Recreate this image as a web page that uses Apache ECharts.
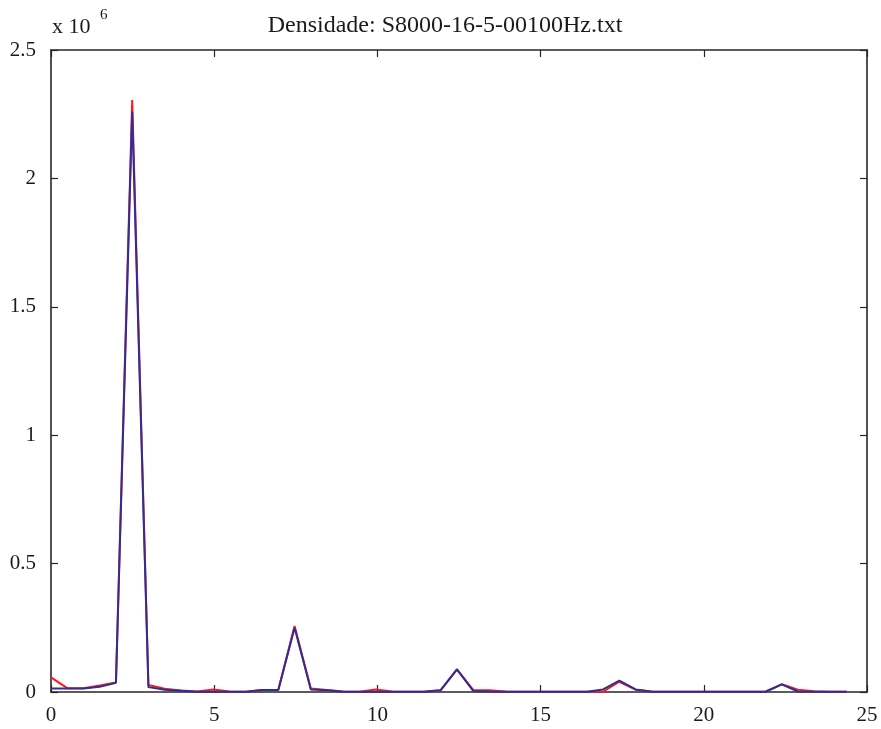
<!DOCTYPE html>
<html>
<head>
<meta charset="utf-8">
<script src="https://cdn.jsdelivr.net/npm/echarts@6/dist/echarts.min.js"></script>
<style>
  html, body { margin: 0; padding: 0; background: #fff; }
  #chart { width: 881px; height: 729px; }
</style>
</head>
<body>
<div id="chart"></div>
<script>
// frequency step between samples
var freqStep = 0.4975;
// densities, in units of 10^6
var redValues = [
  0.057, 0.015, 0.015, 0.025, 0.037, 2.305, 0.027, 0.013, 0.006, 0.002,
  0.010, 0.002, 0.001, 0.008, 0.009, 0.257, 0.014, 0.008, 0.002, 0.001,
  0.010, 0.002, 0.001, 0.002, 0.007, 0.088, 0.008, 0.007, 0.002, 0.001,
  0.001, 0.001, 0.001, 0.001, 0.001, 0.040, 0.009, 0.002, 0.001, 0.001,
  0.001, 0.001, 0.001, 0.001, 0.001, 0.030, 0.009, 0.003, 0.001, 0.001
];
var blueValues = [
  0.014, 0.014, 0.014, 0.020, 0.036, 2.260, 0.019, 0.009, 0.005, 0.001,
  0.001, 0.001, 0.001, 0.008, 0.008, 0.250, 0.010, 0.007, 0.001, 0.001,
  0.001, 0.001, 0.001, 0.001, 0.007, 0.088, 0.004, 0.002, 0.001, 0.001,
  0.001, 0.001, 0.001, 0.001, 0.010, 0.044, 0.010, 0.001, 0.001, 0.001,
  0.001, 0.001, 0.001, 0.001, 0.001, 0.030, 0.002, 0.001, 0.001, 0.001
];
var scale = 1e6;

function toPoints(vals) {
  return vals.map(function (v, i) { return [i * freqStep, v * scale]; });
}

var font = '"Liberation Serif", "DejaVu Serif", serif';
var axisColor = '#262626';
var lineCfg = { show: true, onZero: false, lineStyle: { color: axisColor, width: 1.6 } };
var tickCfg = { inside: true, length: 7, lineStyle: { color: axisColor, width: 1.2 } };

var myChart = echarts.init(document.getElementById('chart'));

var option = {
  backgroundColor: '#fff',
  animation: false,
  title: {
    text: 'Densidade: S8000-16-5-00100Hz.txt',
    left: 440,
    textAlign: 'center',
    top: 9,
    textStyle: { fontFamily: font, fontSize: 24, fontWeight: 'normal', color: '#1a1a1a' }
  },
  graphic: [
    {
      type: 'text', left: 52, top: 16,
      style: { text: 'x 10', font: '22px ' + font, fill: '#1a1a1a' }
    },
    {
      type: 'text', left: 100, top: 8,
      style: { text: '6', font: '15px ' + font, fill: '#1a1a1a' }
    }
  ],
  grid: { left: 51, right: 14, top: 50, bottom: 37, containLabel: false },
  xAxis: [
    {
      type: 'value', min: 0, max: 25, interval: 5,
      axisLine: lineCfg, axisTick: tickCfg,
      axisLabel: { fontFamily: font, fontSize: 21, color: '#1a1a1a', margin: 13 },
      splitLine: { show: false }
    },
    {
      type: 'value', min: 0, max: 25, interval: 5, position: 'top',
      axisLine: lineCfg, axisTick: tickCfg,
      axisLabel: { show: false },
      splitLine: { show: false }
    }
  ],
  yAxis: [
    {
      type: 'value', min: 0, max: 2.5e6, interval: 0.5e6,
      axisLine: lineCfg, axisTick: tickCfg,
      axisLabel: {
        fontFamily: font, fontSize: 21, color: '#1a1a1a', margin: 15,
        formatter: function (v) { return String(+(v / scale).toFixed(1)); }
      },
      splitLine: { show: false }
    },
    {
      type: 'value', min: 0, max: 2.5e6, interval: 0.5e6, position: 'right',
      axisLine: lineCfg, axisTick: tickCfg,
      axisLabel: { show: false },
      splitLine: { show: false }
    }
  ],
  series: [
    {
      name: 'red', type: 'line', data: toPoints(redValues),
      showSymbol: false, lineStyle: { color: '#ff1a1a', width: 2 },
      itemStyle: { color: '#ff1a1a' }, z: 2
    },
    {
      name: 'blue', type: 'line', data: toPoints(blueValues),
      showSymbol: false, lineStyle: { color: '#2e2e96', width: 2 },
      itemStyle: { color: '#2e2e96' }, z: 3
    }
  ]
};

myChart.setOption(option);
</script>
</body>
</html>
